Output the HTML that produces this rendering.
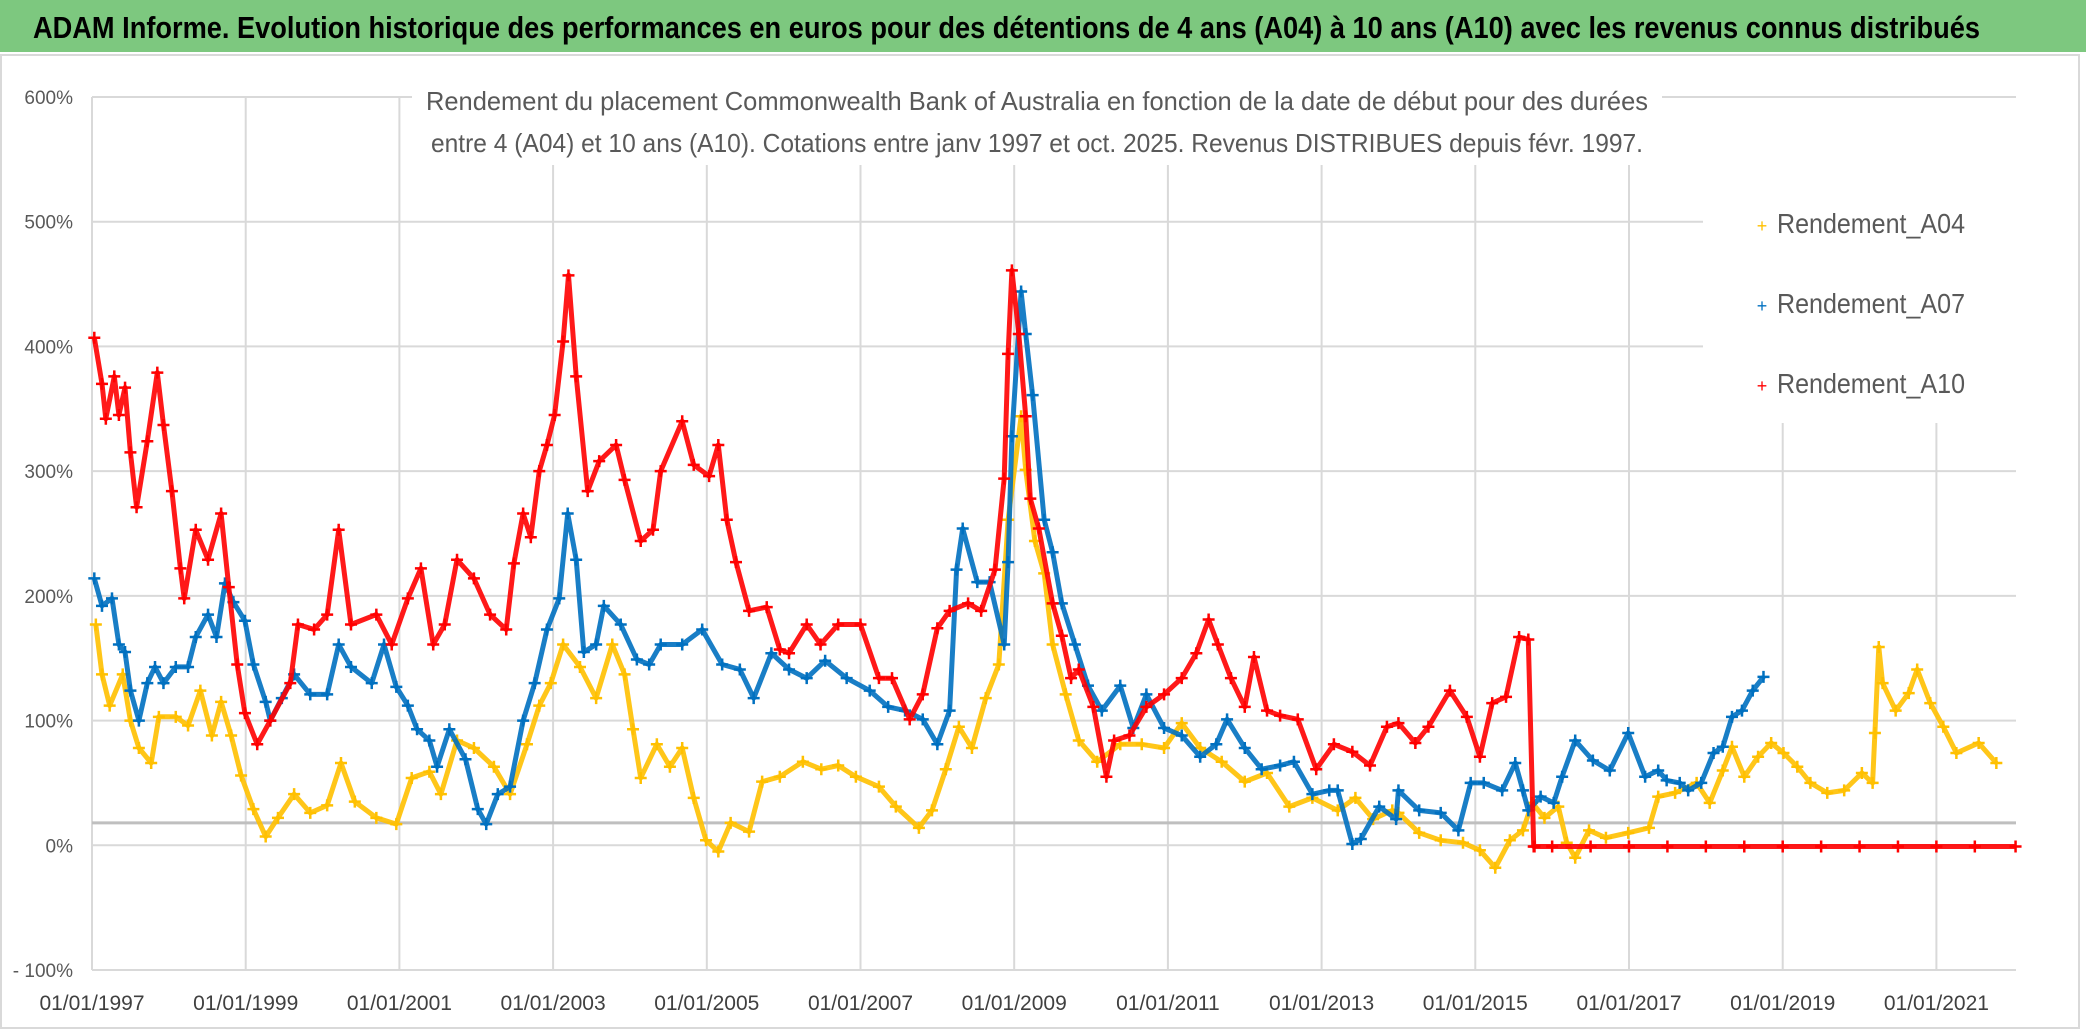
<!DOCTYPE html>
<html><head><meta charset="utf-8"><style>
html,body{margin:0;padding:0;background:#fff;}
svg{display:block;font-family:"Liberation Sans Narrow","Liberation Sans",sans-serif;}
</style></head><body>
<svg id="chart" width="2086" height="1032" viewBox="0 0 2086 1032" xmlns="http://www.w3.org/2000/svg">
<rect x="0" y="0" width="2086" height="1032" fill="#fff"/>
<rect x="0" y="0" width="2086" height="52" fill="#7dc87f"/>
<text x="33" y="38" font-size="31" font-weight="bold" fill="#000" textLength="1947" lengthAdjust="spacingAndGlyphs">ADAM Informe. Evolution historique des performances en euros pour des détentions de 4 ans (A04) à 10 ans (A10) avec les revenus connus distribués</text>
<rect x="1" y="55" width="2078" height="973" fill="none" stroke="#d9d9d9" stroke-width="2"/>
<g id="grid"></g>
<g id="series"></g>
<rect x="412" y="60" width="1250" height="105" fill="#fff"/>
<text x="1037" y="110" font-size="26" fill="#595959" text-anchor="middle" textLength="1222" lengthAdjust="spacingAndGlyphs">Rendement du placement Commonwealth Bank of Australia en fonction de la date de début pour des durées</text>
<text x="1037" y="152" font-size="26" fill="#595959" text-anchor="middle" textLength="1212" lengthAdjust="spacingAndGlyphs">entre 4 (A04) et 10 ans (A10). Cotations entre janv 1997 et oct. 2025. Revenus DISTRIBUES depuis févr. 1997.</text>
<rect x="1703" y="183" width="313" height="240" fill="#fff"/>
<g>
<g><text x="1762" y="232" font-size="18" fill="#ffc000" text-anchor="middle">+</text><text x="1777" y="233" font-size="28" fill="#595959" textLength="188" lengthAdjust="spacingAndGlyphs">Rendement_A04</text></g>
<g><text x="1762" y="312" font-size="18" fill="#0070c0" text-anchor="middle">+</text><text x="1777" y="313" font-size="28" fill="#595959" textLength="188" lengthAdjust="spacingAndGlyphs">Rendement_A07</text></g>
<g><text x="1762" y="392" font-size="18" fill="#ff0000" text-anchor="middle">+</text><text x="1777" y="393" font-size="28" fill="#595959" textLength="188" lengthAdjust="spacingAndGlyphs">Rendement_A10</text></g>
</g>
<g id="axes"></g>
</svg>
<script>
const yTicks=[600,500,400,300,200,100,0,-100];
const yTickLabels=["600%","500%","400%","300%","200%","100%","0%","- 100%"];
const xTicks=[1997,1999,2001,2003,2005,2007,2009,2011,2013,2015,2017,2019,2021];
const xTickLabels=["01/01/1997","01/01/1999","01/01/2001","01/01/2003","01/01/2005","01/01/2007","01/01/2009","01/01/2011","01/01/2013","01/01/2015","01/01/2017","01/01/2019","01/01/2021"];
const crossValue=18;

const a04Dates=[1997.05,1997.13,1997.23,1997.4,1997.5,1997.61,1997.77,1997.87,1998.09,1998.25,1998.41,1998.56,1998.68,1998.81,1998.94,1999.1,1999.26,1999.42,1999.63,1999.84,2000.06,2000.24,2000.42,2000.7,2000.96,2001.16,2001.39,2001.54,2001.75,2001.97,2002.23,2002.44,2002.66,2002.82,2002.97,2003.13,2003.35,2003.56,2003.77,2003.93,2004.04,2004.14,2004.35,2004.52,2004.68,2004.83,2004.99,2005.15,2005.31,2005.55,2005.72,2005.95,2006.25,2006.49,2006.71,2006.94,2007.24,2007.46,2007.76,2007.93,2008.11,2008.28,2008.45,2008.63,2008.8,2008.92,2009.09,2009.15,2009.27,2009.39,2009.5,2009.67,2009.84,2010.08,2010.38,2010.66,2010.95,2011.18,2011.42,2011.7,2012.0,2012.29,2012.58,2012.88,2013.21,2013.44,2013.67,2013.92,2014.0,2014.27,2014.55,2014.84,2015.06,2015.26,2015.45,2015.62,2015.74,2015.9,2016.08,2016.19,2016.3,2016.48,2016.7,2016.99,2017.26,2017.38,2017.6,2017.88,2018.05,2018.22,2018.34,2018.5,2018.68,2018.85,2019.01,2019.19,2019.36,2019.58,2019.8,2020.03,2020.17,2020.2,2020.25,2020.3,2020.47,2020.64,2020.75,2020.92,2021.09,2021.26,2021.55,2021.78];
const a04Vals=[177,137,112,137,100,78,66,103,103,96,124,88,115,88,56,29,7,22,41,26,32,66,35,22,17,54,59,41,84,78,63,41,81,112,130,161,143,118,161,137,93,54,81,63,78,38,4,-5,18,11,51,55,67,61,64,55,47,31,14,28,61,95,78,118,145,261,344,301,244,218,161,121,84,67,81,81,78,98,78,67,51,58,31,38,28,38,21,28,26,10,4,2,-4,-18,4,12,34,22,31,2,-10,12,6,10,14,39,42,50,34,60,79,55,71,82,74,63,50,42,44,58,50,90,159,130,108,122,141,114,95,74,82,66];

const a07Dates=[1997.03,1997.13,1997.26,1997.35,1997.43,1997.5,1997.61,1997.72,1997.82,1997.93,1998.09,1998.25,1998.35,1998.51,1998.62,1998.73,1998.84,1998.99,1999.1,1999.26,1999.32,1999.47,1999.63,1999.84,2000.06,2000.21,2000.37,2000.64,2000.8,2000.96,2001.11,2001.23,2001.39,2001.49,2001.65,2001.86,2002.02,2002.13,2002.28,2002.44,2002.61,2002.76,2002.92,2003.08,2003.19,2003.3,2003.4,2003.56,2003.66,2003.88,2004.09,2004.25,2004.4,2004.68,2004.94,2005.2,2005.43,2005.61,2005.84,2006.07,2006.3,2006.54,2006.82,2007.12,2007.36,2007.58,2007.81,2008.0,2008.16,2008.25,2008.33,2008.52,2008.68,2008.87,2008.92,2008.97,2009.09,2009.15,2009.24,2009.39,2009.5,2009.62,2009.79,2009.96,2010.14,2010.38,2010.55,2010.72,2010.95,2011.18,2011.42,2011.63,2011.77,2012.0,2012.22,2012.46,2012.64,2012.88,2013.1,2013.21,2013.4,2013.51,2013.75,2013.97,2014.0,2014.27,2014.55,2014.78,2014.94,2015.11,2015.35,2015.52,2015.62,2015.69,2015.85,2016.02,2016.13,2016.3,2016.53,2016.75,2016.99,2017.21,2017.38,2017.49,2017.66,2017.77,2017.94,2018.1,2018.22,2018.34,2018.47,2018.61,2018.75];
const a07Vals=[214,192,198,161,155,124,100,130,143,130,143,143,167,185,167,210,195,180,145,115,100,118,137,121,121,161,143,130,161,127,112,93,84,63,93,69,29,17,41,47,100,130,173,198,266,229,155,161,192,177,149,145,161,161,173,145,141,118,154,141,134,148,134,124,111,108,101,81,108,221,254,211,211,161,227,328,444,410,361,261,235,194,161,128,108,128,94,121,94,88,71,81,101,78,61,64,67,41,44,44,1,5,31,21,44,28,26,12,50,50,44,66,44,28,39,34,55,84,68,60,90,55,60,52,50,44,50,74,79,103,108,124,135,149,165,149,157];

const a10Dates=[1997.03,1997.13,1997.18,1997.29,1997.35,1997.43,1997.5,1997.58,1997.72,1997.85,1997.93,1998.04,1998.15,1998.2,1998.35,1998.51,1998.68,1998.78,1998.89,1998.99,1999.15,1999.32,1999.58,1999.68,1999.89,2000.06,2000.21,2000.37,2000.7,2000.9,2001.11,2001.28,2001.44,2001.59,2001.75,2001.97,2002.18,2002.39,2002.49,2002.61,2002.71,2002.82,2002.92,2003.02,2003.13,2003.2,2003.3,2003.45,2003.6,2003.82,2003.93,2004.14,2004.3,2004.4,2004.68,2004.83,2005.03,2005.15,2005.26,2005.38,2005.55,2005.78,2005.95,2006.07,2006.3,2006.48,2006.71,2007.0,2007.24,2007.41,2007.64,2007.81,2008.0,2008.16,2008.4,2008.57,2008.75,2008.87,2008.92,2008.97,2009.06,2009.15,2009.21,2009.32,2009.5,2009.62,2009.74,2009.84,2010.03,2010.2,2010.3,2010.5,2010.72,2010.95,2011.18,2011.37,2011.53,2011.65,2011.82,2012.0,2012.12,2012.29,2012.46,2012.69,2012.93,2013.16,2013.4,2013.63,2013.85,2014.0,2014.22,2014.39,2014.67,2014.89,2015.06,2015.22,2015.4,2015.57,2015.69,2015.76,2015.77,2016.0,2016.5,2017.0,2017.5,2018.0,2018.5,2019.0,2019.5,2020.0,2020.5,2021.0,2021.5,2022.03];
const a10Vals=[407,370,342,376,345,367,315,271,324,379,337,284,222,198,253,229,266,207,145,106,81,100,130,177,173,185,253,177,185,161,198,222,161,177,229,214,185,173,226,266,247,300,321,345,404,457,376,284,308,321,293,244,253,300,340,305,296,321,261,227,188,191,157,154,177,161,177,177,134,134,101,121,174,188,194,188,221,294,394,461,410,344,278,254,194,168,134,141,111,55,84,88,111,121,134,154,181,161,134,111,151,108,104,101,61,81,75,64,95,98,82,95,124,103,71,114,119,167,165,-1,-1,-1,-1,-1,-1,-1,-1,-1,-1,-1,-1,-1,-1,-1];

const NS="http://www.w3.org/2000/svg";
const X0=92,X1=2016,Y600=97,YM100=970;
function xs(yr){return X0+(yr-1997)*76.85;}
function ys(v){return YM100-(v+100)*(YM100-Y600)/700;}
function mk(tag,attrs,parent){const e=document.createElementNS(NS,tag);for(const k in attrs)e.setAttribute(k,attrs[k]);parent.appendChild(e);return e;}

const grid=document.getElementById('grid');
yTicks.forEach((v,i)=>{
  const y=ys(v);
  const l=mk('line',{x1:X0,y1:y,x2:(y>183&&y<423)?1703:X1,y2:y,stroke:'#d9d9d9','stroke-width':2},grid);
  
  
});
xTicks.forEach(t=>{
  const x=xs(t);
  const top=(x>1703)?183:Y600;
  const l=mk('line',{x1:x,y1:top,x2:x,y2:YM100,stroke:'#d9d9d9','stroke-width':2},grid);
  
  
});
const ax=mk('line',{x1:X0,y1:ys(crossValue),x2:X1,y2:ys(crossValue),stroke:'#bfbfbf','stroke-width':3},grid);



const ser=document.getElementById('series');
function drawSeries(dates,vals,color,name){
  const n=Math.min(dates.length,vals.length);
  const g=mk('g',{},ser);
  
  
  let arr=[];
  for(let i=0;i<n;i++)arr.push(xs(dates[i]).toFixed(1)+','+ys(vals[i]).toFixed(1));
  const pl=mk('polyline',{points:arr.join(' '),fill:'none',stroke:color,'stroke-width':5,'stroke-linejoin':'round','stroke-opacity':0.9},g);
  
  
  for(let i=0;i<n;i++){
    const x=xs(dates[i]),y=ys(vals[i]);
    const p=mk('path',{d:`M${x-6},${y}h12M${x},${y-6}v12`,stroke:color,'stroke-width':2.5},g);
    
    
  }
}
drawSeries(a04Dates,a04Vals,'#ffc000','series-a04');
drawSeries(a07Dates,a07Vals,'#0070c0','series-a07');
drawSeries(a10Dates,a10Vals,'#ff0000','series-a10');

const axes=document.getElementById('axes');
yTicks.forEach((v,i)=>{
  const t=mk('text',{x:73,y:ys(v)+7,'font-size':19,fill:'#595959','text-anchor':'end'},axes);
  t.textContent=yTickLabels[i];
  
  
});
xTicks.forEach((v,i)=>{
  const t=mk('text',{x:xs(v),y:1010,'font-size':21,fill:'#404040','text-anchor':'middle'},axes);
  t.textContent=xTickLabels[i];
  
  
});
</script>
</body></html>
